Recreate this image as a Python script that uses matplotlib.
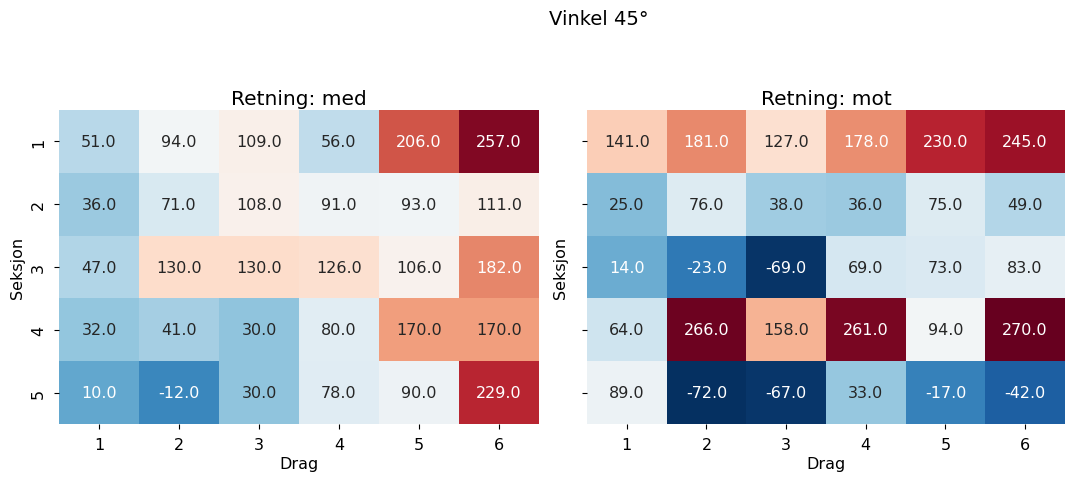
import matplotlib
matplotlib.use("Agg")
import matplotlib.pyplot as plt
import numpy as np
import seaborn as sns

drag = ["1", "2", "3", "4", "5", "6"]
seksjon = ["1", "2", "3", "4", "5"]

med = np.array([
    [51, 94, 109, 56, 206, 257],
    [36, 71, 108, 91, 93, 111],
    [47, 130, 130, 126, 106, 182],
    [32, 41, 30, 80, 170, 170],
    [10, -12, 30, 78, 90, 229],
], dtype=float)

mot = np.array([
    [141, 181, 127, 178, 230, 245],
    [25, 76, 38, 36, 75, 49],
    [14, -23, -69, 69, 73, 83],
    [64, 266, 158, 261, 94, 270],
    [89, -72, -67, 33, -17, -42],
], dtype=float)

vmin = min(med.min(), mot.min())
vmax = max(med.max(), mot.max())

fig = plt.figure(figsize=(10.69, 4.81), dpi=100)
ax1 = fig.add_axes([0.0552, 0.1164, 0.449, 0.6528])
ax2 = fig.add_axes([0.5491, 0.1164, 0.4471, 0.6528])

for ax, data, navn in [(ax1, med, "med"), (ax2, mot, "mot")]:
    sns.heatmap(data, ax=ax, annot=True, fmt=".1f", cmap="RdBu_r",
                vmin=vmin, vmax=vmax, cbar=False,
                xticklabels=drag, yticklabels=seksjon,
                annot_kws={"fontsize": 11.5})
    ax.set_title(f"Retning: {navn}", fontsize=14.5, pad=4)
    ax.set_xlabel("Drag", fontsize=11.5, labelpad=3)
    ax.set_ylabel("Seksjon", fontsize=11.5)
    ax.tick_params(labelsize=11.5, pad=6)
    plt.setp(ax.get_xticklabels(), rotation=0)
    plt.setp(ax.get_yticklabels(), rotation=90, va="center")

ax2.set_yticklabels([])

fig.suptitle("Vinkel 45°", fontsize=14, x=0.56, y=0.98)
fig.savefig("out.png", dpi=100)
